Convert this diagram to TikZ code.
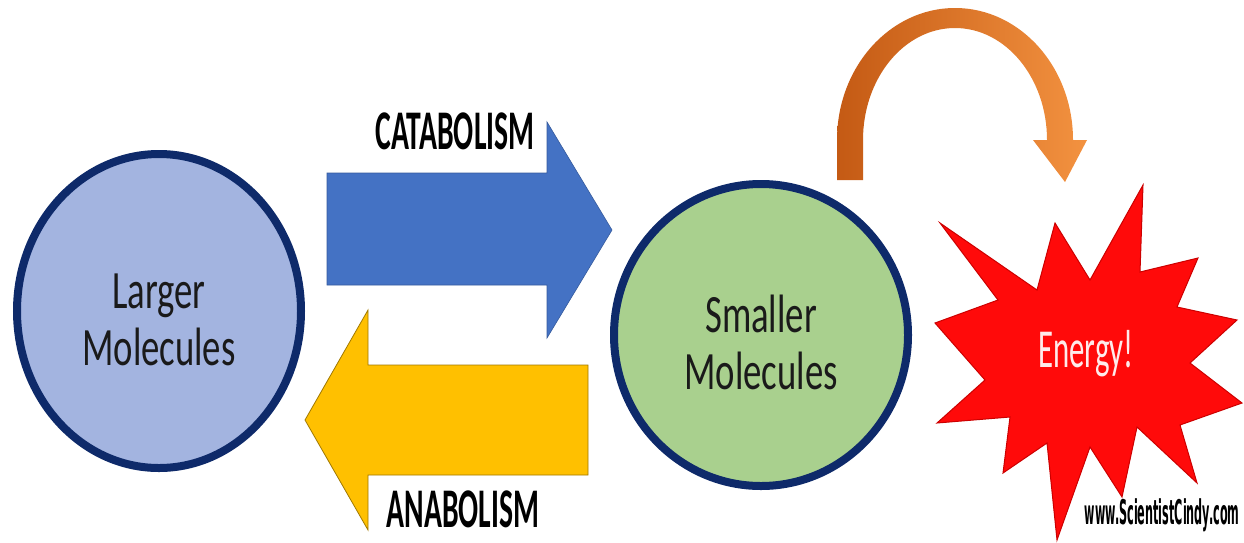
\documentclass[tikz,border=0pt]{standalone}
\usepackage{fontspec}
\setmainfont{Carlito}
\newfontfamily\molfont[FakeStretch=0.68]{Carlito}
\newfontfamily\procfont[FakeStretch=0.53]{Carlito}
\newfontfamily\starfont[FakeStretch=0.56]{Carlito}
\newfontfamily\webfont[FakeStretch=0.33]{DejaVu Sans}
\usetikzlibrary{shapes.geometric}

\definecolor{navy}{HTML}{0E2A6A}
\definecolor{bigblue}{HTML}{A3B4E0}
\definecolor{smallgreen}{HTML}{A9D08E}
\definecolor{catblue}{HTML}{4472C4}
\definecolor{anayellow}{HTML}{FFC000}
\definecolor{anaedge}{HTML}{A07800}
\definecolor{orangedark}{HTML}{C45A14}
\definecolor{orangelight}{HTML}{F39240}
\definecolor{starred}{HTML}{FF0A0A}
\definecolor{textgray}{HTML}{1A1A1A}

\begin{document}
\begin{tikzpicture}[x=1pt,y=-1pt,
    molecule/.style={ellipse, draw=navy, line width=8pt, inner sep=0pt},
    mollabel/.style={align=center, text=textgray, font=\molfont\fontsize{54}{57}\selectfont},
    process/.style={text=black, font=\procfont\bfseries\fontsize{56}{58}\selectfont}]
        \useasboundingbox (0,0) rectangle (1244,542);

        % the two molecule circles
        \node[molecule, fill=bigblue, minimum width=284pt, minimum height=314pt] (larger) at (159,311) {};
        \node[molecule, fill=smallgreen, minimum width=294pt, minimum height=302pt] (smaller) at (761,335) {};
        \node[mollabel] (largertext) at ([yshift=-9pt]larger.center) {Larger\\Molecules};
        \node[mollabel] (smallertext) at ([yshift=-7pt]smaller.center) {Smaller\\Molecules};

        % catabolism and anabolism arrows
        \draw[fill=catblue, draw=catblue!80!black, line width=0.6pt] (327,173) -- (547,173) -- (547,122) -- (612,230)
            -- (547,338) -- (547,285) -- (327,285) -- cycle;
        \draw[fill=anayellow, draw=anaedge, line width=0.8pt] (588,365) -- (368,365) -- (368,310) -- (305,420)
            -- (368,530) -- (368,475) -- (588,475) -- cycle;

        \node[process] (catlabel) at (455,131) {CATABOLISM};
        \node[process] (analabel) at (463,509) {ANABOLISM};

        % curved arrow to the energy star
        \shade[left color=orangedark, right color=orangelight] (837,180) -- (837,140)
            arc[start angle=180, end angle=360, x radius=118, y radius=132]
            -- (1087,140) -- (1065,182) -- (1033,140) -- (1047,140)
            arc[start angle=360, end angle=180, x radius=92, y radius=112]
            -- (863,180) -- cycle;

        % energy star
        \draw[fill=starred, draw=red!80!black, line width=1pt] (940,223) -- (1037,290) -- (1055,223) -- (1090,280)
            -- (1143,185) -- (1140,272) -- (1198,258) -- (1177,307) -- (1237,320) -- (1190,363)
            -- (1242,403) -- (1180,425) -- (1197,483) -- (1137,427) -- (1122,497) -- (1090,447)
            -- (1057,540) -- (1047,443) -- (1003,473) -- (1010,417) -- (937,423) -- (985,380)
            -- (935,323) -- (998,300) -- cycle;
        \node[text=red!8, font=\starfont\fontsize{55}{55}\selectfont, anchor=base] (energy) at (1086,367) {Energy!};

        \node[font=\webfont\bfseries\fontsize{34}{34}\selectfont, anchor=base east] (website) at (1243,524) {www.ScientistCindy.com};
    \end{tikzpicture}
\end{document}
